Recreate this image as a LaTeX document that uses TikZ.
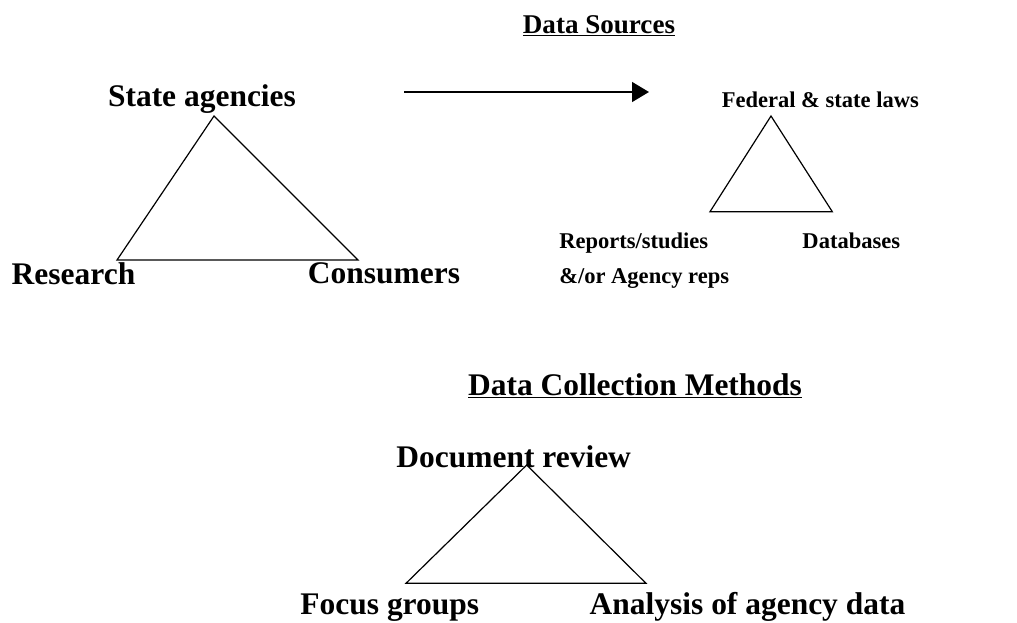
\documentclass[tikz,border=0pt]{standalone}
\usepackage{fontspec}
\setmainfont{Liberation Serif}
\usetikzlibrary{arrows.meta,positioning}

\tikzset{
  big/.style={inner sep=0pt, anchor=base, font=\fontsize{23.6}{28}\selectfont\bfseries},
  small/.style={inner sep=0pt, anchor=base, font=\fontsize{16.9}{20}\selectfont\bfseries},
  head/.style={inner sep=0pt, anchor=base},
  tri/.style={line width=0.9pt, line join=miter}
}

\begin{document}
\begin{tikzpicture}[x=0.75pt, y=-0.75pt]
\useasboundingbox (0,0) rectangle (1017,622);

%nodes, left triangle
\node [big] (state) at (202,106) {State agencies};
\node [big] (research) at (73.5,284) {Research};
\node [big] (consumers) at (384,283) {Consumers};

%nodes, sources
\node [head, font=\fontsize{20.3}{24}\selectfont\bfseries] (sources) at (599,33) {\underline{Data Sources}};
\node [small] (laws) at (820.3,107) {Federal \& state laws};
\node [small, anchor=base west] (reports) at (559,248) {Reports/studies};
\node [small, anchor=base west] (reps) at (559,283) {\&/or Agency reps};
\node [small] (databases) at (851.3,248) {Databases};

%nodes, methods
\node [head, font=\fontsize{23.6}{28}\selectfont\bfseries] (methods) at (635,395) {\underline{Data Collection Methods}};
\node [big] (review) at (513.7,467) {Document review};
\node [big] (focus) at (389.8,614) {Focus groups};
\node [big] (analysis) at (747.5,614) {Analysis of agency data};

%corners
\coordinate (a1) at (214,116);
\coordinate (b1) at (117,260);
\coordinate (c1) at (358,260);
\coordinate (a2) at (771,116);
\coordinate (b2) at (710,211.7);
\coordinate (c2) at (832.3,211.7);
\coordinate (a3) at (526.7,465);
\coordinate (b3) at (406,583.3);
\coordinate (c3) at (646,583.3);
\coordinate (from) at (404,92);
\coordinate (to) at (649,92);

%triangles
\draw [tri] (a1) -- (b1) -- (c1) -- cycle;
\draw [tri] (a2) -- (b2) -- (c2) -- cycle;
\draw [tri] (a3) -- (b3) -- (c3) -- cycle;

%arrow
\draw [line width=1.1pt, -{Triangle[length=12.75pt, width=15pt]}] (from) -- (to);

\end{tikzpicture}
\end{document}
